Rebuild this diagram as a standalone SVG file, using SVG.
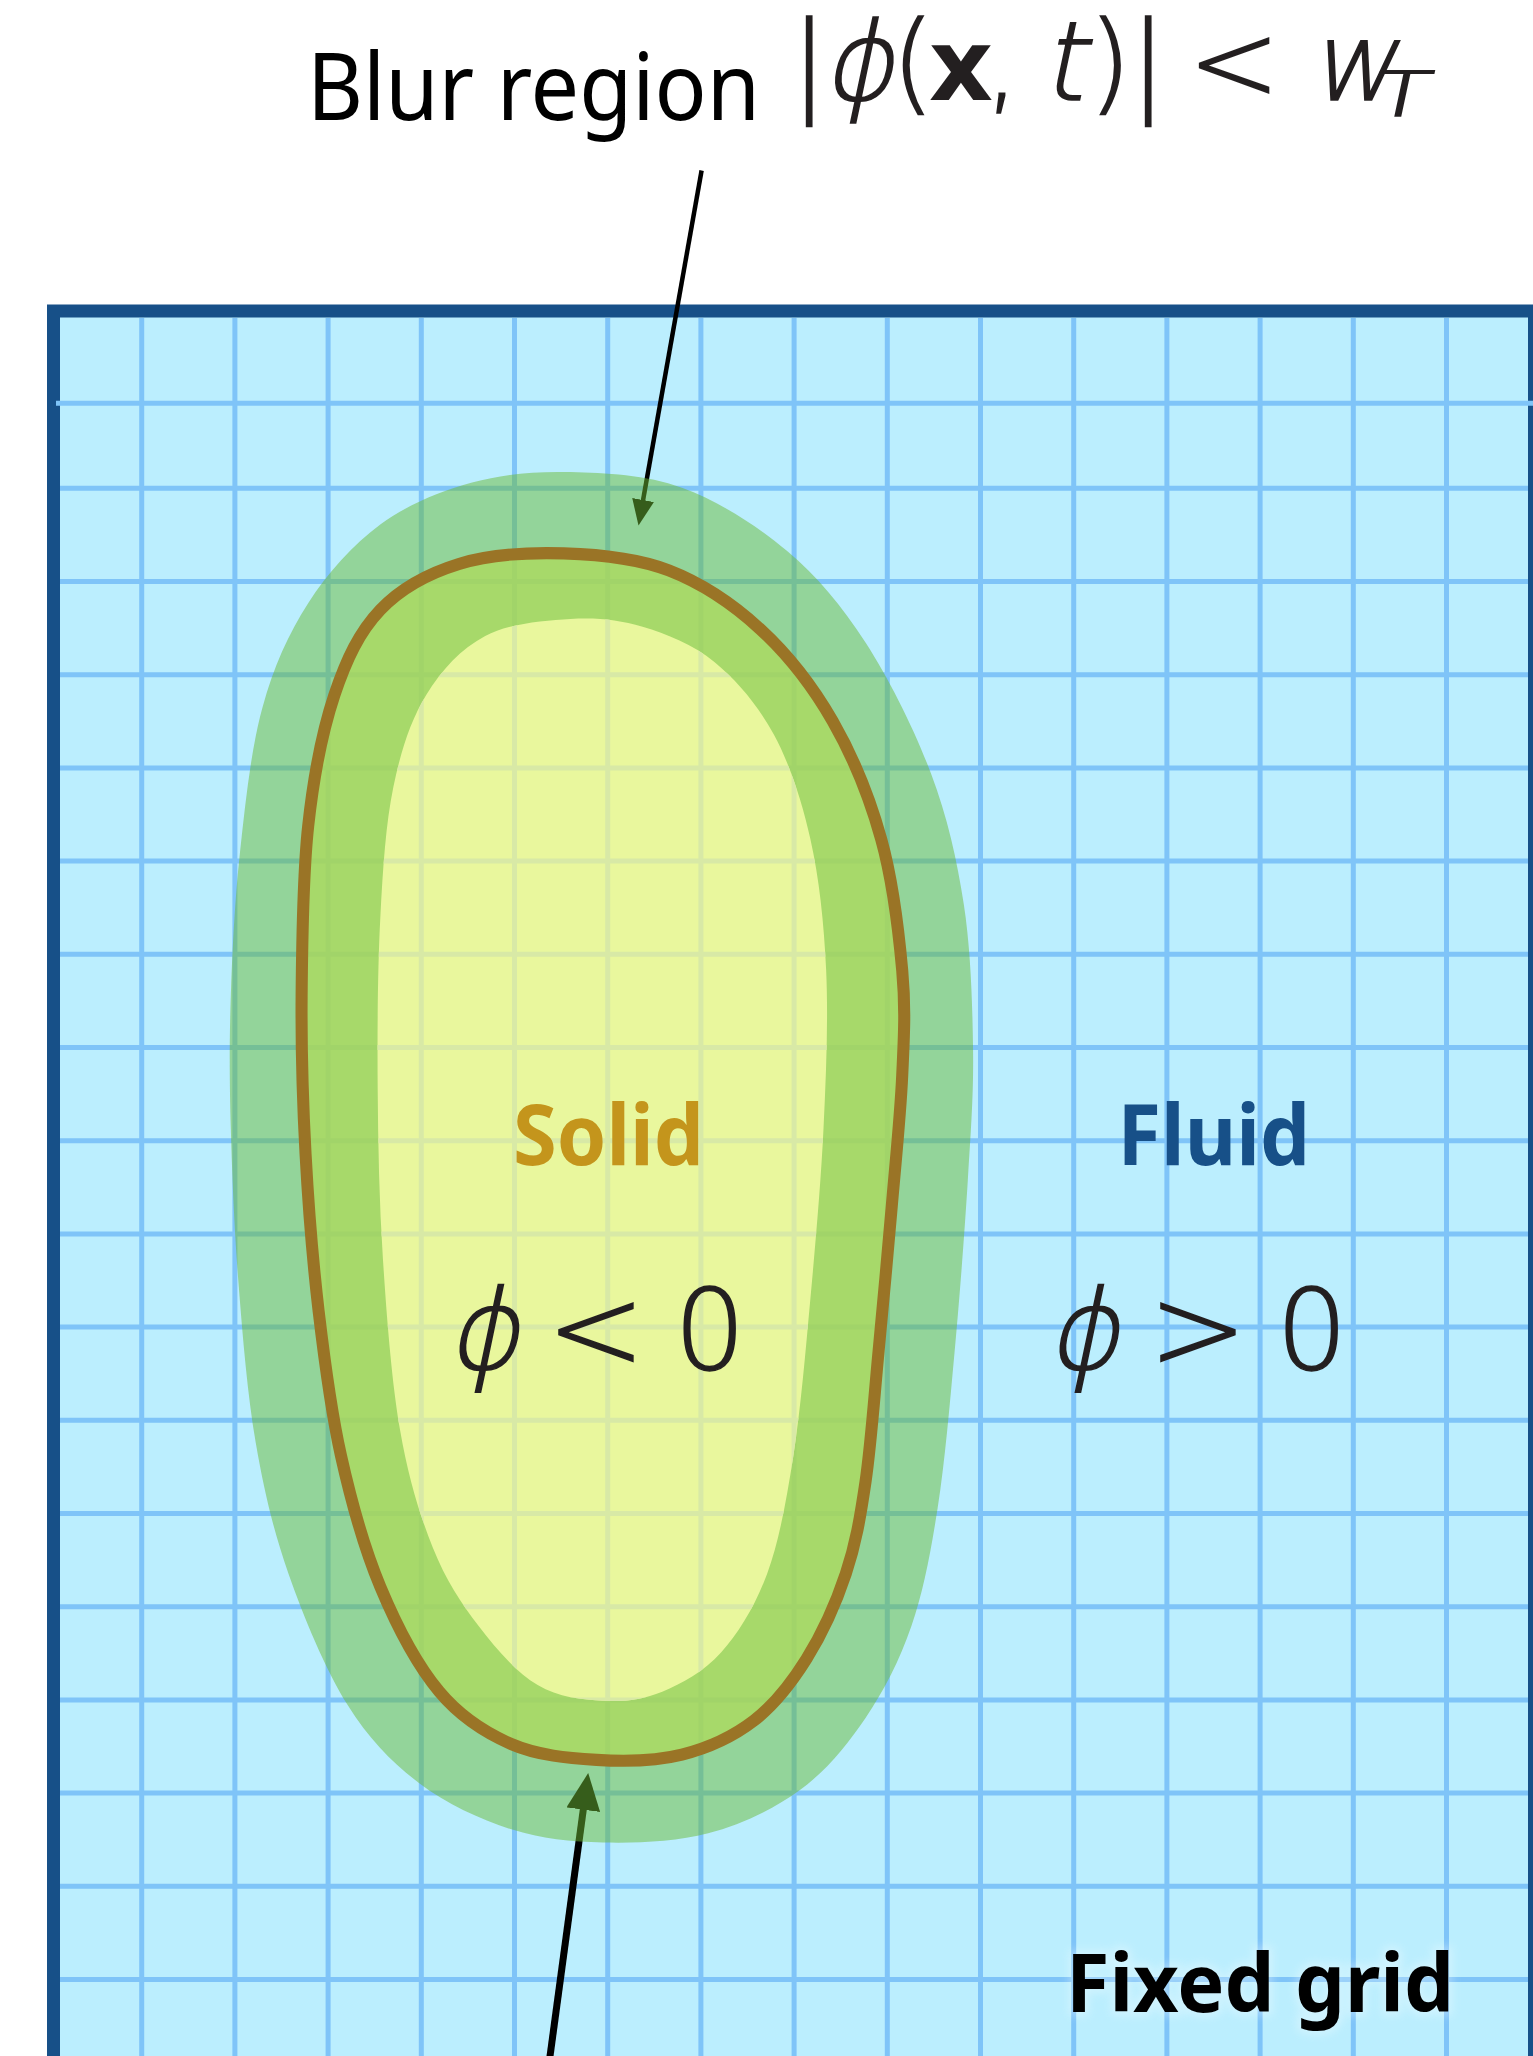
<svg xmlns="http://www.w3.org/2000/svg" width="1533" height="2056" viewBox="0 0 1533 2056">
<style>
.lbl{font-family:"Noto Sans","Liberation Sans",sans-serif}
.m{font-family:"DejaVu Sans",sans-serif;font-weight:200;fill:#231f20;stroke:#231f20;stroke-width:1.6}
.grid{stroke:#7fc4f8;stroke-width:5;fill:none}
.gridin{stroke:#d8e9a6;stroke-width:5;fill:none}
.conn{stroke:#000;fill:none}
</style>
<defs>
<marker id="headL" viewBox="0 0 37 34" markerWidth="37" markerHeight="34" refX="1" refY="17" orient="auto" markerUnits="userSpaceOnUse"><path d="M0,0 L37,17 L0,34 Z" fill="#000"/></marker>
<marker id="headS" viewBox="0 0 26 22" markerWidth="26" markerHeight="22" refX="1" refY="11" orient="auto" markerUnits="userSpaceOnUse"><path d="M0,0 L26,11 L0,22 Z" fill="#000"/></marker>
<path id="gridpath" d="M141.7 318V2060M234.9 318V2060M328.1 318V2060M421.3 318V2060M514.5 318V2060M607.7 318V2060M700.9 318V2060M794.1 318V2060M887.3 318V2060M980.5 318V2060M1073.7 318V2060M1166.9 318V2060M1260.1 318V2060M1353.3 318V2060M1446.5 318V2060M60 488.3H1528M60 581.5H1528M60 674.7H1528M60 767.9H1528M60 861.1H1528M60 954.3H1528M60 1047.5H1528M60 1140.7H1528M60 1233.9H1528M60 1327.1H1528M60 1420.3H1528M60 1513.5H1528M60 1606.7H1528M60 1699.9H1528M60 1793.1H1528M60 1886.3H1528M60 1979.5H1528"/>
<path id="outerShape" d="M435 360C461.67 360.67 492.5 362 520 372C547.5 382 576.67 400.33 600 420C623.33 439.67 641.67 461.67 660 490C678.33 518.33 697.5 556.67 710 590C722.5 623.33 729.67 655 735 690C740.33 725 741.5 765 742 800C742.5 835 740.33 861.67 738 900C735.67 938.33 731.83 988.33 728 1030C724.17 1071.67 720.5 1115 715 1150C709.5 1185 704.17 1213.33 695 1240C685.83 1266.67 674.17 1289.17 660 1310C645.83 1330.83 630 1350.33 610 1365C590 1379.67 565 1391.33 540 1398C515 1404.67 485 1405.5 460 1405C435 1404.5 413.33 1402.5 390 1395C366.67 1387.5 340.83 1375.83 320 1360C299.17 1344.17 281.67 1326.67 265 1300C248.33 1273.33 231.67 1233.33 220 1200C208.33 1166.67 201.33 1136.67 195 1100C188.67 1063.33 185.17 1020 182 980C178.83 940 177 896.67 176 860C175 823.33 174.83 795 176 760C177.17 725 179 686.67 183 650C187 613.33 191.33 571.67 200 540C208.67 508.33 220 483.33 235 460C250 436.67 269.17 415.33 290 400C310.83 384.67 335.830 374.67 360 368C384.17 361.33 408.33 359.33 435 360Z"/>
<path id="solidShape" d="M430 422C456.67 422.83 485 425.33 510 435C535 444.67 559.17 460.83 580 480C600.83 499.17 619.67 523.33 635 550C650.33 576.67 663.17 608.33 672 640C680.83 671.67 685.33 710 688 740C690.67 770 689.33 790 688 820C686.67 850 683 885 680 920C677 955 673.33 995 670 1030C666.67 1065 664.17 1101.67 660 1130C655.83 1158.33 652.5 1177.5 645 1200C637.5 1222.5 626.67 1246.33 615 1265C603.33 1283.67 590.83 1299.83 575 1312C559.17 1324.17 540 1333 520 1338C500 1343 476.67 1343.33 455 1342C433.33 1340.67 410 1338.67 390 1330C370 1321.33 351.67 1310 335 1290C318.33 1270 302.5 1240 290 1210C277.5 1180 267.83 1145 260 1110C252.17 1075 247.5 1038.33 243 1000C238.5 961.67 235.17 920 233 880C230.83 840 229.67 801.67 230 760C230.33 718.33 230.83 668.33 235 630C239.17 591.67 245.83 557.5 255 530C264.17 502.5 274.17 481.67 290 465C305.83 448.33 326.67 437.17 350 430C373.33 422.83 403.33 421.17 430 422Z"/>
<path id="innerShape" d="M435 472C455 470.83 471.67 472.5 490 478C508.33 483.5 528.33 491.33 545 505C561.67 518.67 577.83 537.5 590 560C602.17 582.5 611.33 610 618 640C624.67 670 628.33 703.33 630 740C631.67 776.67 630 818.33 628 860C626 901.67 621.83 948.33 618 990C614.17 1031.67 610.5 1075 605 1110C599.5 1145 594.17 1175 585 1200C575.83 1225 563.33 1245 550 1260C536.67 1275 520 1283.83 505 1290C490 1296.17 475.83 1297.83 460 1297C444.17 1296.17 425.83 1294.5 410 1285C394.17 1275.5 378.33 1257.5 365 1240C351.67 1222.5 340 1205 330 1180C320 1155 311.33 1126.67 305 1090C298.67 1053.33 294.83 1003.33 292 960C289.17 916.67 288.33 873.33 288 830C287.67 786.67 288 738.33 290 700C292 661.67 294.17 628.33 300 600C305.83 571.67 313.33 549.17 325 530C336.67 510.83 351.67 494.67 370 485C388.33 475.33 415 473.17 435 472Z"/>
<clipPath id="innerClip"><use href="#innerShape" transform="scale(1.311377)"/></clipPath>
<filter id="glow" x="-10%" y="-30%" width="120%" height="160%"><feGaussianBlur stdDeviation="4"/></filter>
</defs>
<rect width="1533" height="2056" fill="#ffffff"/>
<g id="fixed-grid">
<rect x="53.5" y="311" width="1481" height="1800" fill="#bbeefe" stroke="#175088" stroke-width="13"/>
<use href="#gridpath" class="grid"/>
<path d="M56 403.3H1533" class="grid"/>
</g>
<g id="connectors">
<line x1="701.6" y1="170.5" x2="642.9" y2="501" class="conn" stroke-width="4.5" marker-end="url(#headS)"/>
<line x1="549.5" y1="2060" x2="583.4" y2="1808.7" class="conn" stroke-width="7" marker-end="url(#headL)"/>
</g>
<g id="blur-region" transform="scale(1.311377)">
<use href="#outerShape" fill="#6bba36" fill-opacity="0.5"/>
</g>
<g id="solid">
<use href="#solidShape" transform="scale(1.311377)" fill="#adda5e" fill-opacity="0.8"/>
<use href="#innerShape" transform="scale(1.311377)" fill="#e9f79d"/>
<g clip-path="url(#innerClip)"><use href="#gridpath" class="gridin"/></g>
<use href="#solidShape" transform="scale(1.311377)" fill="none" stroke="#9a7426" stroke-width="9.2"/>
</g>
<g id="title">
<text class="lbl" x="307" y="120" font-size="94" textLength="453" lengthAdjust="spacingAndGlyphs" fill="#000">Blur region</text>
<text class="m" x="809" y="100" font-size="110" text-anchor="middle">|</text>
<text class="m" transform="translate(858 100) skewX(-12)" font-size="110" text-anchor="middle">ϕ</text>
<text class="m" x="913" y="100" font-size="110" text-anchor="middle">(</text>
<text class="m" x="961" y="100" font-size="100" text-anchor="middle" style="font-weight:700;stroke-width:0">x</text>
<text class="m" x="1002" y="100" font-size="110" text-anchor="middle">,</text>
<text class="m" transform="translate(1063 100) skewX(-12)" font-size="110" text-anchor="middle">t</text>
<text class="m" x="1110" y="100" font-size="110" text-anchor="middle">)</text>
<text class="m" x="1148" y="100" font-size="110" text-anchor="middle">|</text>
<text class="m" x="1234" y="100" font-size="110" text-anchor="middle">&lt;</text>
<text class="m" transform="translate(1353 100) skewX(-12)" font-size="108" text-anchor="middle">w</text>
<text class="m" transform="translate(1398 116) skewX(-12) scale(1.5 1)" font-size="62" text-anchor="middle">T</text>
</g>
<g id="solid-label">
<text class="lbl" x="513" y="1165" font-size="84" font-weight="bold" textLength="191" lengthAdjust="spacingAndGlyphs" fill="#c4951c">Solid</text>
<text class="m" transform="translate(483 1369) skewX(-12)" font-size="112" text-anchor="middle">ϕ</text>
<text class="m" x="596" y="1369" font-size="118" text-anchor="middle">&lt;</text>
<text class="m" x="710" y="1369" font-size="112" text-anchor="middle">0</text>
</g>
<g id="fluid-label">
<text class="lbl" x="1117.5" y="1165" font-size="84" font-weight="bold" textLength="192.5" lengthAdjust="spacingAndGlyphs" fill="#175088">Fluid</text>
<text class="m" transform="translate(1083 1369) skewX(-12)" font-size="112" text-anchor="middle">ϕ</text>
<text class="m" x="1198" y="1369" font-size="118" text-anchor="middle">&gt;</text>
<text class="m" x="1312" y="1369" font-size="112" text-anchor="middle">0</text>
</g>
<g id="fixed-grid-label">
<text class="lbl" x="1066" y="2012" font-size="80" font-weight="bold" textLength="388" lengthAdjust="spacingAndGlyphs" fill="#ffffff" stroke="#ffffff" stroke-width="8" opacity="0.3" filter="url(#glow)">Fixed grid</text>
<text class="lbl" x="1066" y="2012" font-size="80" font-weight="bold" textLength="388" lengthAdjust="spacingAndGlyphs" fill="#000">Fixed grid</text>
</g>
</svg>
